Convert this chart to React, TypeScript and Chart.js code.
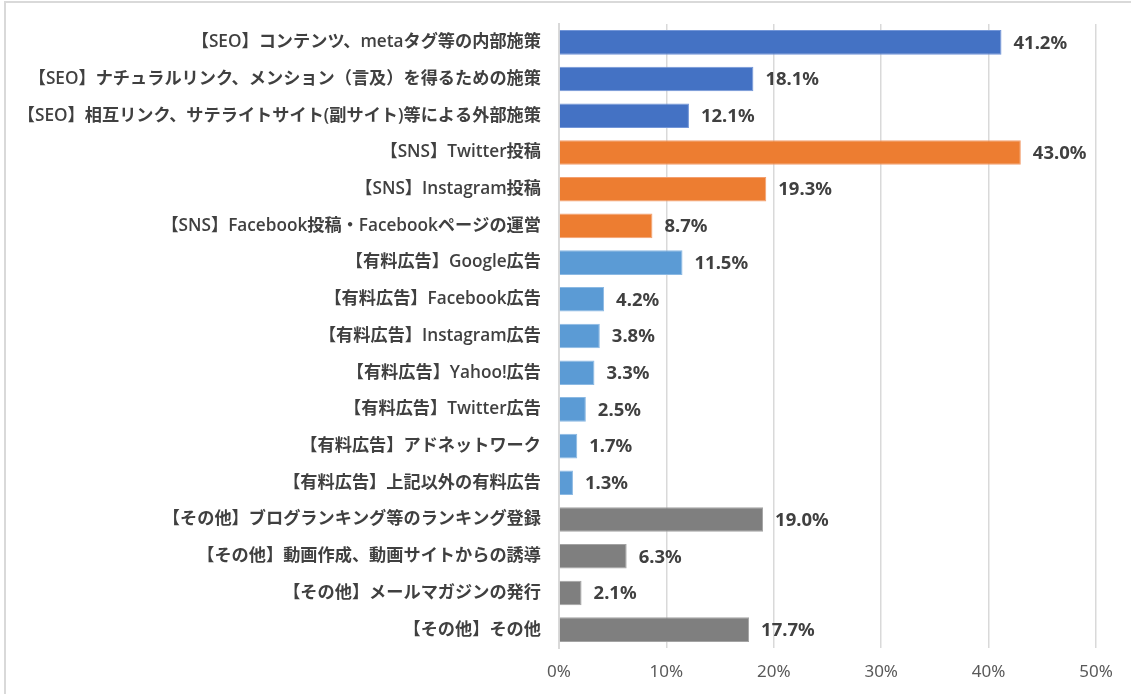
import React, { useEffect, useRef } from "react";
import { Chart, registerables } from "chart.js";

Chart.register(...registerables);

const categories = [
  "【SEO】コンテンツ、metaタグ等の内部施策",
  "【SEO】ナチュラルリンク、メンション（言及）を得るための施策",
  "【SEO】相互リンク、サテライトサイト(副サイト)等による外部施策",
  "【SNS】Twitter投稿",
  "【SNS】Instagram投稿",
  "【SNS】Facebook投稿・Facebookページの運営",
  "【有料広告】Google広告",
  "【有料広告】Facebook広告",
  "【有料広告】Instagram広告",
  "【有料広告】Yahoo!広告",
  "【有料広告】Twitter広告",
  "【有料広告】アドネットワーク",
  "【有料広告】上記以外の有料広告",
  "【その他】ブログランキング等のランキング登録",
  "【その他】動画作成、動画サイトからの誘導",
  "【その他】メールマガジンの発行",
  "【その他】その他",
];

const values = [41.2, 18.1, 12.1, 43.0, 19.3, 8.7, 11.5, 4.2, 3.8, 3.3, 2.5, 1.7, 1.3, 19.0, 6.3, 2.1, 17.7];

const groups = ["SEO", "SEO", "SEO", "SNS", "SNS", "SNS", "AD", "AD", "AD", "AD", "AD", "AD", "AD", "OTHER", "OTHER", "OTHER", "OTHER"];

const xTicks = [0, 10, 20, 30, 40, 50];

const fillColors: Record<string, string> = {
  SEO: "#4472C4",
  SNS: "#ED7D31",
  AD: "#5B9BD5",
  OTHER: "#7F7F7F",
};
const edgeColors: Record<string, string> = {
  SEO: "#7396d8",
  SNS: "#f3a070",
  AD: "#8bb9e3",
  OTHER: "#a3a3a3",
};

const dataLabelPlugin = {
  id: "barValueLabels",
  afterDatasetsDraw(chart: any) {
    const ctx = chart.ctx;
    const meta = chart.getDatasetMeta(0);
    ctx.save();
    ctx.font = 'bold 18.5px "Noto Sans", "DejaVu Sans", sans-serif';
    ctx.fillStyle = "#404040";
    ctx.textBaseline = "middle";
    ctx.textAlign = "left";
    meta.data.forEach((bar: any, i: number) => {
      ctx.fillText(values[i].toFixed(1) + "%", bar.x + 12, bar.y + 1);
    });
    ctx.restore();
  },
};

export default function App() {
  const ref = useRef<HTMLCanvasElement | null>(null);

  useEffect(() => {
    document.body.style.margin = "0";
    const canvas = ref.current;
    if (!canvas) return;
    const chart = new Chart(canvas, {
      type: "bar",
      data: {
        labels: categories,
        datasets: [
          {
            data: values,
            backgroundColor: groups.map((g) => fillColors[g]),
            borderColor: groups.map((g) => edgeColors[g]),
            borderWidth: 1,
            barPercentage: 0.67,
            categoryPercentage: 1,
          },
        ],
      },
      options: {
        indexAxis: "y",
        animation: false,
        responsive: false,
        devicePixelRatio: 1,
        layout: { padding: { top: 24, right: 35, left: 0, bottom: 0 } },
        plugins: {
          legend: { display: false },
          tooltip: { enabled: false },
        },
        scales: {
          x: {
            min: 0,
            max: 50,
            afterBuildTicks: (scale: any) => {
              scale.ticks = xTicks.map((v) => ({ value: v }));
            },
            afterFit: (scale: any) => {
              scale.height = 46;
              scale.paddingLeft = 0;
              scale.paddingRight = 0;
            },
            grid: { color: "#d9d9d9", lineWidth: 1.5, drawTicks: false },
            border: { display: false },
            ticks: {
              padding: 14,
              color: "#595959",
              font: { family: '"Noto Sans", sans-serif', size: 17 },
              callback: (v: any) => v + "%",
            },
          },
          y: {
            afterFit: (scale: any) => {
              scale.width = 559;
              scale.paddingTop = 0;
              scale.paddingBottom = 0;
            },
            grid: { display: false, drawTicks: false },
            border: { display: true, color: "#d9d9d9", width: 2 },
            ticks: {
              padding: 18,
              color: "#404040",
              autoSkip: false,
              font: { family: '"Open Sans", "Noto Sans CJK JP", sans-serif', size: 17.2, weight: "600" },
            },
          },
        },
      },
      plugins: [dataLabelPlugin],
    });
    return () => chart.destroy();
  }, []);

  return (
    <div style={{ position: "relative", width: 1131, height: 694, overflow: "hidden", background: "#fff" }}>
      <div
        style={{
          position: "absolute",
          left: 4,
          top: 1,
          width: 1200,
          height: 800,
          borderTop: "2px solid #d9d9d9",
          borderLeft: "2px solid #d9d9d9",
          boxSizing: "border-box",
        }}
      />
      <canvas ref={ref} width={1131} height={694} style={{ position: "absolute", left: 0, top: 0 }} />
    </div>
  );
}
